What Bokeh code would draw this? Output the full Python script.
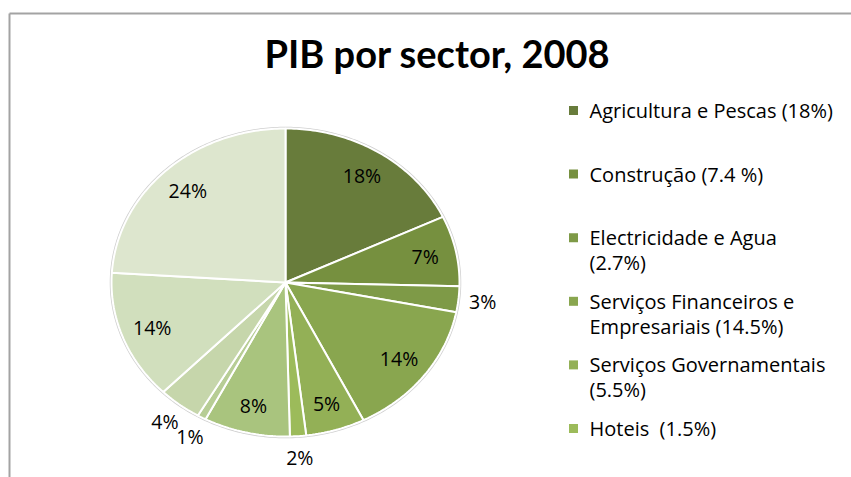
import numpy as np
from bokeh.plotting import figure
from bokeh.models import Range1d, Label
from bokeh.core.properties import value
from bokeh.embed import file_html
from bokeh.resources import INLINE

# ---------------- data ----------------
slice_values = [18, 7.4, 2.7, 14.5, 5.5, 1.5, 8, 0.8, 4, 13.6, 24]
slice_labels = ["18%", "7%", "3%", "14%", "5%", "2%", "8%", "1%", "4%", "14%", "24%"]
slice_colors = ["#687c3b", "#76903f", "#7e9a47", "#89a64f", "#93b056", "#9cbb5a",
                "#a9c47e", "#b7cd95", "#c6d6ab", "#d1dfbd", "#dde6ce"]
legend_labels = ["Agricultura e Pescas (18%)",
                 "Construção (7.4 %)",
                 "Electricidade e Agua\n(2.7%)",
                 "Serviços Financeiros e\nEmpresariais (14.5%)",
                 "Serviços Governamentais\n(5.5%)",
                 "Hoteis \u00a0(1.5%)"]
title_text = "PIB por sector, 2008"

# ---------------- layout constants ----------------
W, H = 851, 477
CX, CY = 285, 282          # pie centre
RX, RY = 174, 154          # pie radii
FONT = "Open Sans"
TFONT = "Lato"

p = figure(width=W, height=H, output_backend="svg", toolbar_location=None,
           x_range=Range1d(0, W), y_range=Range1d(H, 0), min_border=0)
p.axis.visible = False
p.grid.visible = False
p.outline_line_color = None
p.background_fill_color = "white"
p.border_fill_color = "white"

# chart border (top & left visible)
p.segment(x0=[9, 9], y0=[13, 13], x1=[W + 2, 9], y1=[13, H + 2],
          line_color="#a3a3a3", line_width=2)

# title
p.add_layout(Label(x=437, y=52, text=title_text, text_align="center",
                   text_baseline="middle", text_font=TFONT,
                   text_font_size="38px", text_font_style="bold",
                   text_color="black"))

# pie slices
vals = np.array(slice_values, dtype=float)
frac = vals / vals.sum()
ends = np.cumsum(frac)
starts = ends - frac
xs, ys = [], []
for s, e in zip(starts, ends):
    n = max(4, int(400 * (e - s)))
    th = np.linspace(s, e, n) * 2 * np.pi
    xs.append(list(np.concatenate([[CX], CX + RX * np.sin(th)])))
    ys.append(list(np.concatenate([[CY], CY - RY * np.cos(th)])))

# faint outer rim
th_all = np.linspace(0, 2 * np.pi, 400)
p.patch(CX + (RX + 1) * np.sin(th_all), CY - (RY + 1) * np.cos(th_all),
        fill_color=None, line_color="#cfcfcf", line_width=1.5)

p.patches(xs, ys, fill_color=slice_colors, line_color="white", line_width=2)

# slice labels
mids = (starts + ends) / 2 * 2 * np.pi
rfac = np.where(vals < 5, 1.14, 0.82)
lx = CX + RX * rfac * np.sin(mids)
ly = CY - RY * rfac * np.cos(mids)
p.text(x=lx, y=ly, text=slice_labels, text_align="center", text_baseline="middle",
       text_font=value(FONT), text_font_size="19.5px", text_color="black")

# legend
LX, LY0, LDY, LINE = 573, 110, 63.6, 25
sq_x, sq_y, sq_c = [], [], []
tx, ty, tt = [], [], []
for i, lab in enumerate(legend_labels):
    y0 = LY0 + i * LDY
    sq_x.append(LX)
    sq_y.append(y0)
    sq_c.append(slice_colors[i])
    for j, line in enumerate(lab.split("\n")):
        tx.append(LX + 16)
        ty.append(y0 + j * LINE)
        tt.append(line)
p.scatter(sq_x, sq_y, marker="square", size=9, fill_color=sq_c, line_color=None)
p.text(x=tx, y=ty, text=tt, text_align="left", text_baseline="middle",
       text_font=value(FONT), text_font_size="20px", text_color="black")

open("out.html", "w").write(file_html(p, INLINE))
